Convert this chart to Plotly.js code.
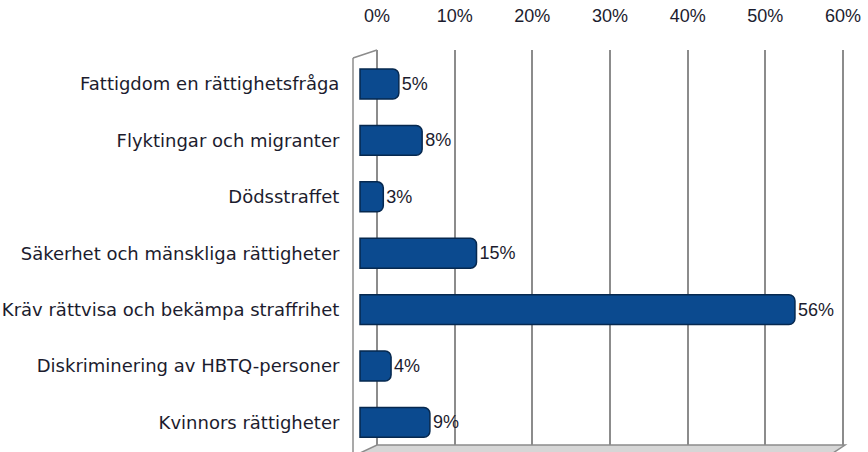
<!DOCTYPE html>
<html>
<head>
<meta charset="utf-8">
<script src="https://cdn.plot.ly/plotly-3.0.1.min.js"></script>
<style>html,body{margin:0;padding:0;background:#fff;}#chart{width:868px;height:452px;}</style>
</head>
<body>
<div id="chart"></div>
<script>
const categories = [
  "Fattigdom en rättighetsfråga",
  "Flyktingar och migranter",
  "Dödsstraffet",
  "Säkerhet och mänskliga rättigheter",
  "Kräv rättvisa och bekämpa straffrihet",
  "Diskriminering av HBTQ-personer",
  "Kvinnors rättigheter"
];
const values = [5, 8, 3, 15, 56, 4, 9];
const tickValues = [0, 10, 20, 30, 40, 50, 60];
const tickLabels = ["0%", "10%", "20%", "30%", "40%", "50%", "60%"];

// pixel geometry helpers (layout only)
const W = 868, H = 452;
const L = 353, R = 850, T = 50, B = 445;
const pw = R - L, ph = B - T;
const px = x => (x - L) / pw;
const py = y => (B - y) / ph;

const font = {family: "Liberation Sans, Arial, sans-serif", size: 18, color: "#1c1c2e"};
const catFont = {family: "DejaVu Sans, Verdana, sans-serif", size: 18, color: "#1c1c2e"};

const bars = {
  type: "bar",
  orientation: "h",
  x: values,
  y: categories,
  xaxis: "x",
  yaxis: "y",
  marker: {color: "#0b4a8f", line: {color: "#06284f", width: 1.5}},
  text: values.map(v => v + "%"),
  textposition: "outside",
  textfont: font,
  cliponaxis: false,
  hoverinfo: "skip"
};
const gridAnchor = {
  type: "scatter",
  mode: "markers",
  x: [0],
  y: [categories[0]],
  xaxis: "x2",
  yaxis: "y",
  marker: {opacity: 0},
  showlegend: false,
  hoverinfo: "skip"
};

const gray = "#8c8c8c";
const shapes = [
  // floor
  {type: "path", xref: "paper", yref: "paper",
   path: `M ${px(377)} ${py(445)} L ${px(845)} ${py(445)} L ${px(833)} ${py(453)} L ${px(360)} ${py(453)} Z`,
   fillcolor: "#d6d6d6", line: {color: gray, width: 1.5}, layer: "below"},
  // left wall edge
  {type: "line", xref: "paper", yref: "paper", x0: px(353), x1: px(353), y0: py(58), y1: py(452),
   line: {color: gray, width: 1.5}, layer: "below"},
  // top-left diagonal
  {type: "line", xref: "paper", yref: "paper", x0: px(353), x1: px(377), y0: py(58), y1: py(50),
   line: {color: gray, width: 1.5}, layer: "below"}
];

const layout = {
  width: W, height: H,
  margin: {l: L, r: W - R, t: T, b: H - B, pad: 0},
  paper_bgcolor: "#ffffff",
  plot_bgcolor: "#ffffff",
  showlegend: false,
  bargap: 0.47,
  barcornerradius: 6,
  font: font,
  xaxis: {
    range: [-7 / 7.767, (R - 360) / 7.767],
    visible: false,
    showgrid: false,
    zeroline: false,
    fixedrange: true
  },
  xaxis2: {
    overlaying: "x",
    side: "top",
    range: [(L - 377) / 7.767, (R - 377) / 7.767],
    tickmode: "array",
    tickvals: tickValues,
    ticktext: tickLabels,
    ticks: "outside",
    ticklen: 20,
    tickcolor: "rgba(0,0,0,0)",
    tickfont: font,
    showgrid: true,
    gridcolor: gray,
    gridwidth: 2,
    zeroline: false,
    showline: false,
    fixedrange: true
  },
  yaxis: {
    type: "category",
    categoryorder: "array",
    categoryarray: categories,
    range: [(B - 84) / 56.4, -(84 - T) / 56.4],
    ticks: "outside",
    ticklen: 9,
    tickcolor: "rgba(0,0,0,0)",
    tickfont: catFont,
    showgrid: false,
    zeroline: false,
    showline: false,
    fixedrange: true
  },
  shapes: shapes
};

Plotly.newPlot("chart", [bars, gridAnchor], layout, {displayModeBar: false, staticPlot: true});
</script>
</body>
</html>
